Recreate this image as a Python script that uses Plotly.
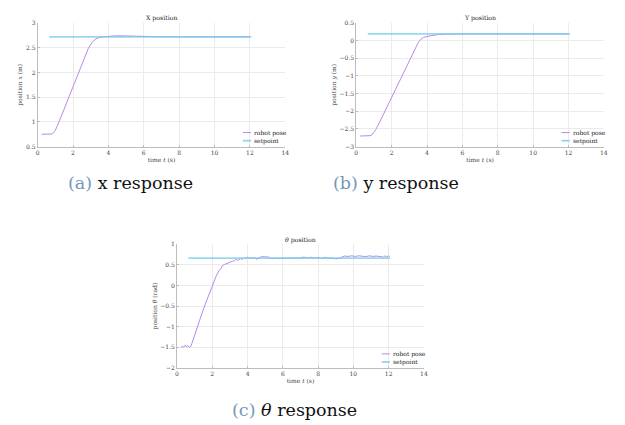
import plotly.graph_objects as go

# ---------------- data ----------------
x_time = [0.22, 0.5, 0.78, 0.9, 1.0, 1.1, 1.21, 1.5, 2.0, 2.5, 2.87, 3.1, 3.3, 3.5,
          3.8, 4.2, 4.6, 5.0, 5.6, 6.5, 8.0, 10.0, 12.0]
x_pose = [0.75, 0.75, 0.755, 0.78, 0.83, 0.91, 1.0, 1.26, 1.71, 2.16, 2.49, 2.62, 2.68, 2.71,
          2.725, 2.735, 2.74, 2.74, 2.735, 2.725, 2.72, 2.72, 2.72]
x_sp_time = [0.65, 12.08]
x_setpoint = [2.72, 2.72]

y_time = [0.22, 0.5, 0.78, 0.9, 1.0, 1.1, 1.3, 1.6, 2.0, 2.5, 3.0, 3.3, 3.5, 3.65,
          3.8, 4.0, 4.3, 4.6, 5.0, 5.5, 6.5, 8.0, 10.0, 12.0]
y_pose = [-2.70, -2.70, -2.69, -2.66, -2.60, -2.52, -2.33, -2.02, -1.61, -1.09, -0.57, -0.25,
          -0.06, 0.04, 0.09, 0.12, 0.15, 0.17, 0.185, 0.19, 0.19, 0.19, 0.19, 0.19]
y_sp_time = [0.65, 12.08]
y_setpoint = [0.19, 0.19]

th_time = [0.22, 0.3, 0.38, 0.46, 0.54, 0.62, 0.7, 0.78, 0.85, 0.95, 1.1, 1.25, 1.46, 1.65,
           1.84, 2.0, 2.21, 2.3, 2.4, 2.5, 2.58, 2.7, 2.87, 3.0, 3.15, 3.25, 3.33, 3.45,
           3.6, 3.7, 3.8, 3.9, 4.0, 4.1, 4.2, 4.3, 4.4, 4.5, 4.6, 4.7, 4.8, 5.0, 5.2, 5.3,
           5.4, 5.6, 5.8, 6.0, 6.3, 6.6, 7.0, 7.2, 7.4, 7.6, 7.8, 8.0, 8.2, 8.4, 8.6, 8.8,
           9.0, 9.2, 9.4, 9.5, 9.7, 9.9, 10.1, 10.3, 10.5, 10.7, 10.9, 11.1, 11.3, 11.5,
           11.7, 11.8, 11.9, 12.0, 12.05]
th_pose = [-1.51, -1.47, -1.50, -1.45, -1.49, -1.46, -1.50, -1.48, -1.40, -1.27, -1.05, -0.86,
           -0.62, -0.40, -0.17, -0.02, 0.22, 0.30, 0.37, 0.42, 0.48, 0.51, 0.545, 0.56, 0.59,
           0.60, 0.63, 0.61, 0.655, 0.63, 0.675, 0.65, 0.685, 0.66, 0.68, 0.655, 0.685, 0.635,
           0.66, 0.695, 0.70, 0.695, 0.69, 0.66, 0.65, 0.665, 0.655, 0.665, 0.66, 0.67, 0.665,
           0.69, 0.665, 0.685, 0.66, 0.68, 0.655, 0.685, 0.66, 0.67, 0.645, 0.66, 0.695, 0.715,
           0.705, 0.72, 0.705, 0.72, 0.71, 0.70, 0.72, 0.705, 0.715, 0.70, 0.69, 0.72,
           0.69, 0.725, 0.70]
th_sp_time = [0.65, 12.08]
th_setpoint = [0.666, 0.666]

x_ticks = [0, 2, 4, 6, 8, 10, 12, 14]
panel_titles = ["X position", "Y position", "<i>θ</i> position"]
y_titles = ["position <i>x</i> (m)", "position <i>y</i> (m)", "position <i>θ</i> (rad)"]
x_title = "time <i>t</i> (s)"
legend_names = ["robot pose", "setpoint"]
captions = ["x response", "y response", "<i>θ</i> response"]
caption_labels = ["(a)", "(b)", "(c)"]

# ---------------- style ----------------
PURPLE = "#b98ae2"
CYAN = "#74cdec"
GRID = "#ebebeb"
AXIS = "#bdbdbd"
TICKC = "#444444"
CAPBLUE = "#7497bb"
FONT = "DejaVu Serif"
CAPFONT = "DejaVu Serif"
W, H = 625, 425

# panel boxes in pixels: left, right, top, bottom
boxes = [(36, 286, 19.3, 145), (357.7, 607.7, 19.3, 145), (176.7, 426, 244.3, 370)]
y_ranges = [[0.5, 3], [-3, 0.5], [-2, 1]]
series = [(x_time, x_pose, x_sp_time, x_setpoint),
          (y_time, y_pose, y_sp_time, y_setpoint),
          (th_time, th_pose, th_sp_time, th_setpoint)]
caption_pos = [(130, 182), (398.3, 182), (295.8, 413)]

fig = go.Figure()
layout = dict(width=W, height=H, margin=dict(l=0, r=0, t=0, b=0),
              paper_bgcolor="white", plot_bgcolor="white", showlegend=False,
              font=dict(family=FONT, size=6, color="#222222"))
annotations = []
shapes = []

for i in range(3):
    n = "" if i == 0 else str(i + 1)
    xa, ya = "x" + n, "y" + n
    t, p, st, sv = series[i]
    fig.add_trace(go.Scatter(x=t, y=p, mode="lines", name=legend_names[0],
                             line=dict(color=PURPLE, width=1), xaxis=xa, yaxis=ya))
    fig.add_trace(go.Scatter(x=st, y=sv, mode="lines", name=legend_names[1], opacity=0.75,
                             line=dict(color=CYAN, width=1.7), xaxis=xa, yaxis=ya))
    l, r, tp, bt = boxes[i]
    axcommon = dict(showgrid=True, gridcolor=GRID, gridwidth=1, zeroline=False,
                    showline=True, linecolor=AXIS, linewidth=1, ticks="inside",
                    ticklen=2, tickcolor=AXIS, tickfont=dict(family=FONT, size=6, color=TICKC))
    layout["xaxis" + n] = dict(domain=[l / W, r / W], range=[0, 14], tickvals=x_ticks,
                               anchor=ya, title=dict(text=x_title, standoff=2,
                                                     font=dict(family=FONT, size=6, color=TICKC)),
                               **axcommon)
    layout["yaxis" + n] = dict(domain=[1 - bt / H, 1 - tp / H], range=y_ranges[i], dtick=0.5,
                               anchor=xa, title=dict(text=y_titles[i], standoff=2,
                                                     font=dict(family=FONT, size=6, color=TICKC)),
                               **axcommon)
    # panel title
    annotations.append(dict(text=panel_titles[i], xref=xa + " domain", yref=ya + " domain",
                            x=0.5, y=1.037, xanchor="center", yanchor="middle", showarrow=False,
                            font=dict(family=FONT, size=6.2, color="#222222")))
    # legend (lower right, inside)
    rows = [0.1135, 0.048]
    cols = [PURPLE, CYAN]
    widths = [1, 1.7]
    for k in range(2):
        shapes.append(dict(type="line", xref=xa + " domain", yref=ya + " domain",
                           x0=0.829, x1=0.862, y0=rows[k], y1=rows[k],
                           line=dict(color=cols[k], width=widths[k]),
                           opacity=1 if k == 0 else 0.85))
        annotations.append(dict(text=legend_names[k], xref=xa + " domain", yref=ya + " domain",
                                x=0.866, y=rows[k], xanchor="left", yanchor="middle",
                                showarrow=False, font=dict(family=FONT, size=6, color="#222222")))
    # caption
    cx, cy = caption_pos[i]
    annotations.append(dict(text=f"<span style='color:{CAPBLUE}'>{caption_labels[i]}</span> {captions[i]}",
                            xref="paper", yref="paper", x=cx / W, y=1 - cy / H,
                            xanchor="center", yanchor="middle", showarrow=False,
                            font=dict(family=CAPFONT, size=17.5, color="#111111")))

layout["annotations"] = annotations
layout["shapes"] = shapes
fig.update_layout(**layout)
fig.write_html("out.html")
